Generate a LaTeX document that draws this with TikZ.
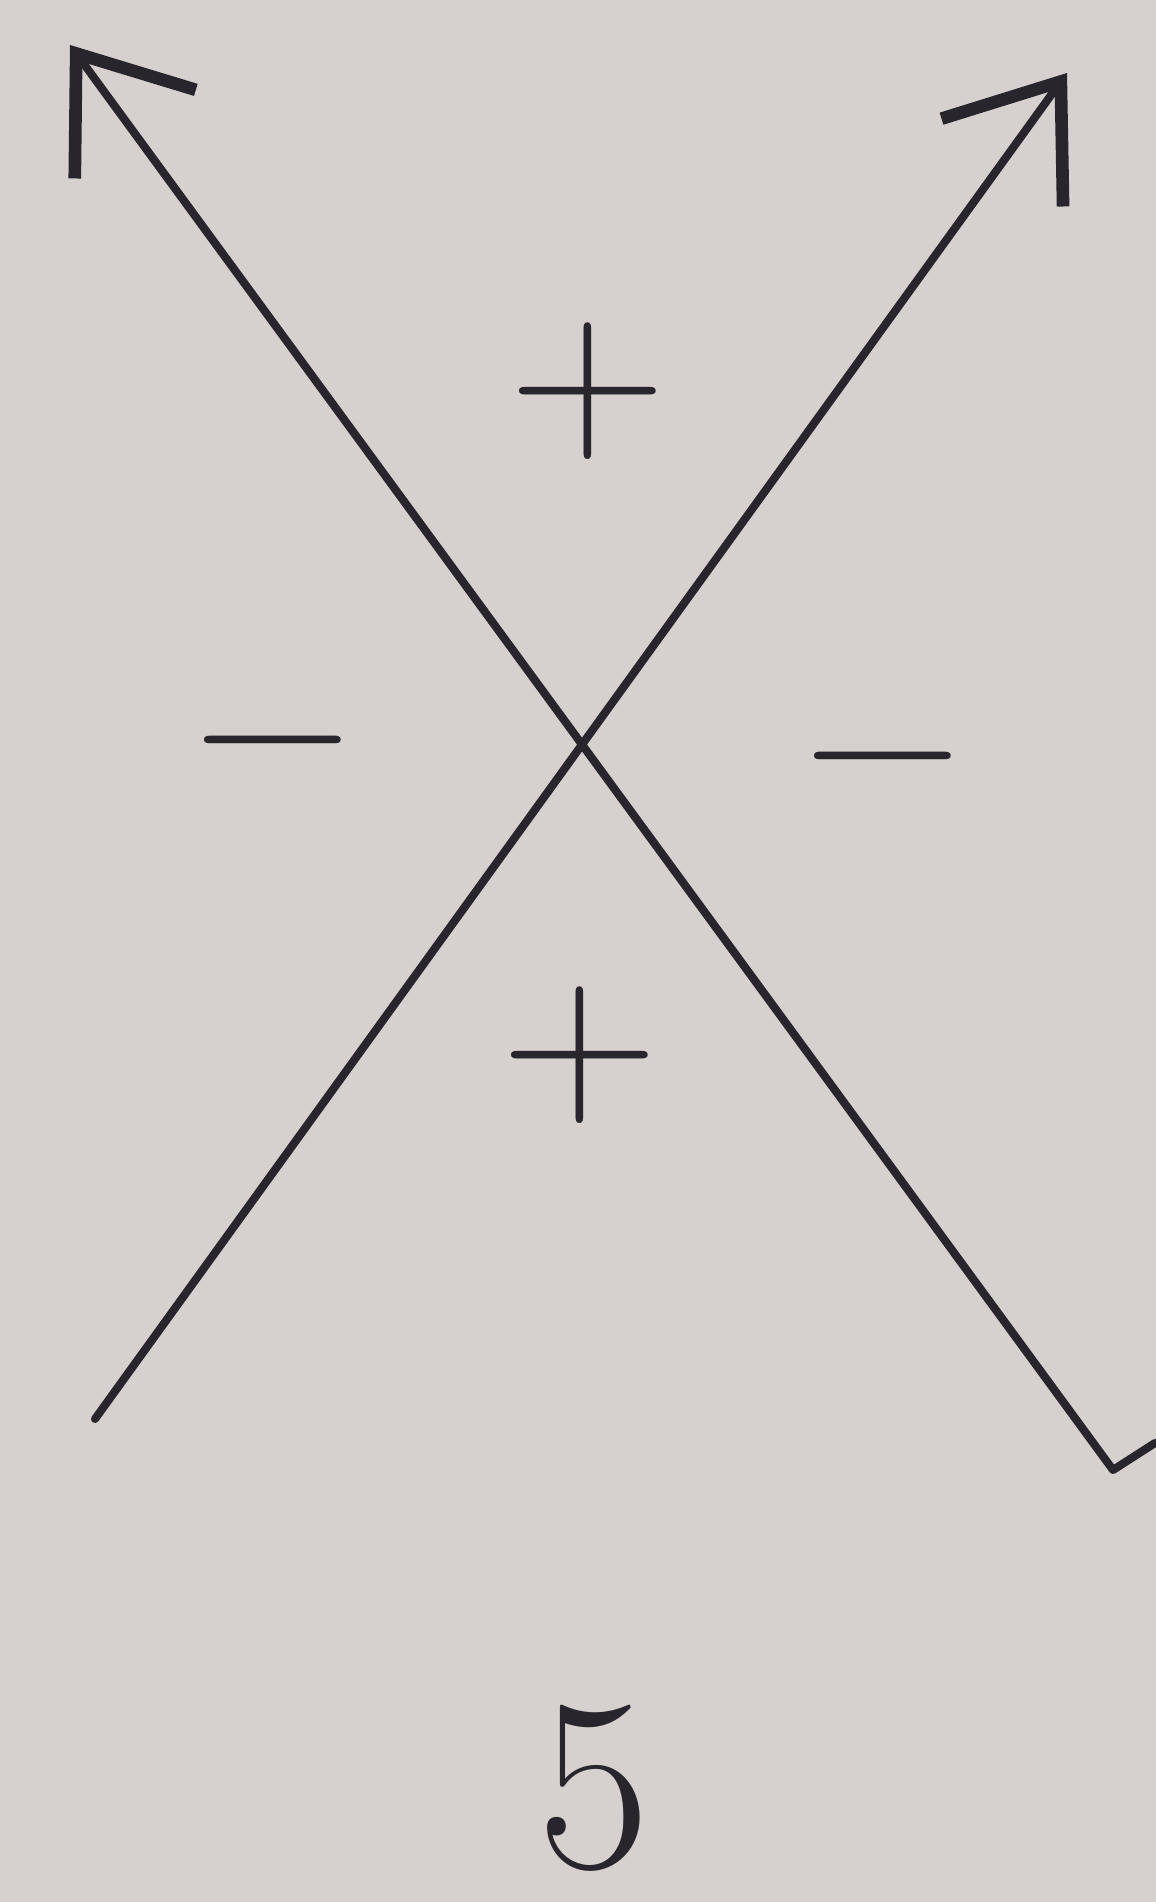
\documentclass[tikz,border=0pt]{standalone}
\usepackage{xcolor}
\usetikzlibrary{arrows.meta}
\definecolor{paper}{RGB}{214,209,207}
\definecolor{ink}{RGB}{40,38,44}

\begin{document}
\begin{tikzpicture}[>={Straight Barb[length=10mm,width=15mm,line width=3.6pt]},
	sline/.style={ink,line width=2.3pt,line cap=round,line join=round},
	sign/.style={ink,inner sep=0pt,font=\fontsize{62}{62}\selectfont}]
		
		% paper
		\fill[paper] (0,0) rectangle (11.56,19.02);
		\useasboundingbox (0,0) rectangle (11.56,19.02);
		
		% end points
		\coordinate (tl) at (0.70,18.57);
		\coordinate (tr) at (10.67,18.29);
		\coordinate (bl) at (0.95,4.83);
		\coordinate (br) at (11.13,4.32);
		\coordinate (hook) at (11.55,4.59);
		
		% lines
		\draw[sline,->] (hook) -- (br) -- (tl);
		\draw[sline,->] (bl) -- (tr);
		
		% signs
		\node[sign] (ptop) at (5.88,15.11) {+};
		\node[sign] (pbot) at (5.80,8.47) {+};
		\node[sign] (mleft) at (2.73,11.37) {−};
		\node[sign] (mright) at (8.83,11.21) {−};
		
		% number
		\node[sign,font=\fontsize{70}{70}\selectfont] (num) at (5.94,1.14) {5};
		
	\end{tikzpicture}
\end{document}
